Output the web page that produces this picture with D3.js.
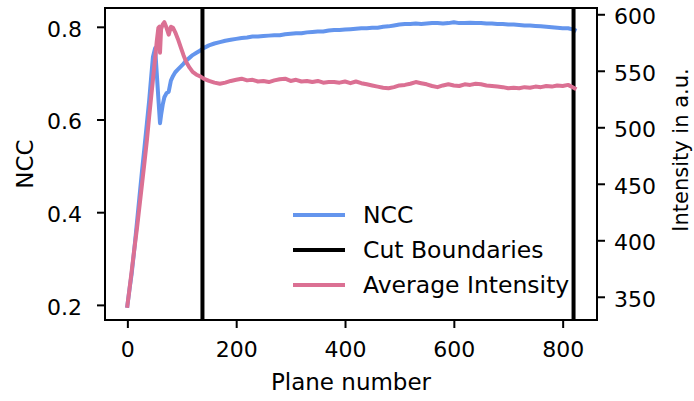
<!DOCTYPE html>
<html lang="en">
<head>
    <meta charset="UTF-8">
    <title>NCC and intensity per plane</title>
    <script src="https://d3js.org/d3.v7.min.js"></script>
    <style>
        body { margin: 0; background: #fff; }
        text { font-family: "DejaVu Sans", sans-serif; fill: #000; }
    </style>
</head>
<body>
<script>

// plane numbers (x)
const planes = [0, 4, 8, 13, 18, 22, 27, 31, 36, 40, 44, 47, 51, 54, 57, 59, 60, 62, 65, 68,
    72, 76, 80, 84, 88, 93, 98, 103, 108, 114, 120, 127, 134, 140,
    150, 160, 170, 180, 190, 200, 210, 220, 230, 240, 250, 260, 270, 280, 290, 300,
    310, 320, 330, 340, 350, 360, 370, 380, 390, 400, 410, 420, 430, 440, 450, 460,
    470, 480, 490, 500, 510, 520, 530, 540, 550, 560, 570, 580, 590, 600, 610, 620,
    630, 640, 650, 660, 670, 680, 690, 700, 710, 720, 730, 740, 750, 760, 770, 780,
    790, 800, 810, 820, 822];

const ncc = [0.198, 0.235, 0.268, 0.323, 0.382, 0.430, 0.490, 0.535, 0.593, 0.640, 0.695, 0.735, 0.754, 0.700, 0.645, 0.610, 0.592, 0.610, 0.632, 0.648,
    0.657, 0.660, 0.684, 0.694, 0.702, 0.708, 0.714, 0.720, 0.727, 0.733, 0.739, 0.744, 0.749, 0.754,
    0.760, 0.764, 0.767, 0.770, 0.772, 0.774, 0.776, 0.777, 0.779, 0.779, 0.780, 0.781, 0.782, 0.782, 0.784, 0.785,
    0.786, 0.786, 0.788, 0.789, 0.790, 0.790, 0.792, 0.793, 0.793, 0.794, 0.795, 0.796, 0.797, 0.797, 0.798, 0.798,
    0.800, 0.801, 0.803, 0.805, 0.806, 0.806, 0.807, 0.806, 0.807, 0.808, 0.808, 0.807, 0.808, 0.810, 0.808, 0.808,
    0.809, 0.808, 0.808, 0.807, 0.807, 0.806, 0.806, 0.805, 0.805, 0.804, 0.803, 0.803, 0.802, 0.801, 0.800, 0.799,
    0.798, 0.797, 0.797, 0.794, 0.793];

const intensity = [342, 357, 373, 393, 412, 429, 450, 467, 489, 509, 528, 542, 561, 576, 588, 589, 566, 587, 591, 593,
    588, 582, 589, 588, 584, 578, 571, 564, 558, 553, 549, 546.5, 545, 543,
    541, 539.5, 538.5, 539.5, 541, 542, 543, 541.5, 542, 540.5, 541, 540, 541.5, 542.5, 543, 541,
    542, 540.5, 541, 540, 541, 539.5, 540, 540, 539.5, 540.5, 539, 540.5, 539, 538, 537, 536,
    535, 534.5, 535.5, 537, 537.5, 538.5, 540, 539, 538, 536.5, 535.5, 537, 538, 537, 536.5, 538,
    537.5, 538.5, 538, 537, 536.5, 536, 535.5, 534.5, 535, 534.5, 535.5, 535, 536, 535.5, 536.5, 536,
    537, 536.5, 537.5, 535, 534.5];

const cutBoundaries = [138, 820];

const xTicks = [0, 200, 400, 600, 800];
const nccTicks = [0.2, 0.4, 0.6, 0.8];
const intensityTicks = [350, 400, 450, 500, 550, 600];

const legendLabels = ["NCC", "Cut Boundaries", "Average Intensity"];

const w = 694;
const h = 401;
const margin = {top: 8, right: 97, bottom: 81, left: 105};

const blue = "#6495ed";
const pink = "#db7093";

// matplotlib style 5% padding around the data
const pad = (ext) => {
    const d = ext[1] - ext[0];
    return [ext[0] - 0.05 * d, ext[1] + 0.05 * d];
};

const xScale = d3.scaleLinear()
                 .domain(pad(d3.extent(planes)))
                 .range([margin.left, w - margin.right]);

const yLeft = d3.scaleLinear()
                .domain(pad(d3.extent(ncc)))
                .range([h - margin.bottom, margin.top]);

const yRight = d3.scaleLinear()
                 .domain(pad(d3.extent(intensity)))
                 .range([h - margin.bottom, margin.top]);

const svg = d3.select("body")
              .append("svg")
              .attr("width", w)
              .attr("height", h);

const plot = svg.append("g");

const nccLine = d3.line()
                  .x((d, i) => xScale(planes[i]))
                  .y((d) => yLeft(d));

const intLine = d3.line()
                  .x((d, i) => xScale(planes[i]))
                  .y((d) => yRight(d));

plot.append("path")
    .datum(ncc)
    .attr("d", nccLine)
    .attr("fill", "none")
    .attr("stroke", blue)
    .attr("stroke-width", 4)
    .attr("stroke-linejoin", "round")
    .attr("stroke-linecap", "square");

plot.selectAll("line.cut")
    .data(cutBoundaries)
    .enter()
    .append("line")
    .attr("class", "cut")
    .attr("x1", (d) => xScale(d))
    .attr("x2", (d) => xScale(d))
    .attr("y1", margin.top)
    .attr("y2", h - margin.bottom)
    .attr("stroke", "#000")
    .attr("stroke-width", 4);

plot.append("path")
    .datum(intensity)
    .attr("d", intLine)
    .attr("fill", "none")
    .attr("stroke", pink)
    .attr("stroke-width", 4)
    .attr("stroke-linejoin", "round")
    .attr("stroke-linecap", "square");

// frame
svg.append("rect")
   .attr("x", margin.left)
   .attr("y", margin.top)
   .attr("width", w - margin.left - margin.right)
   .attr("height", h - margin.top - margin.bottom)
   .attr("fill", "none")
   .attr("stroke", "#000")
   .attr("stroke-width", 2);

function styleAxis(g) {
    g.select(".domain").remove();
    g.selectAll(".tick line").attr("stroke", "#000").attr("stroke-width", 2);
    g.selectAll(".tick text")
     .style("font-family", "'DejaVu Sans', sans-serif")
     .style("font-size", "22px")
     .attr("fill", "#000");
}

const xAxis = d3.axisBottom(xScale).tickValues(xTicks).tickFormat(d3.format("d"))
                .tickSize(8).tickPadding(8);
svg.append("g")
   .attr("transform", "translate(0," + (h - margin.bottom) + ")")
   .call(xAxis)
   .call(styleAxis)
   .call((g) => g.selectAll(".tick text").attr("dy", null).attr("y", 37));

const leftAxis = d3.axisLeft(yLeft).tickValues(nccTicks).tickFormat(d3.format(".1f"))
                   .tickSize(8).tickPadding(15);
svg.append("g")
   .attr("transform", "translate(" + margin.left + ",0)")
   .call(leftAxis)
   .call(styleAxis)
   .call((g) => g.selectAll(".tick text").attr("dy", "0.42em"));

const rightAxis = d3.axisRight(yRight).tickValues(intensityTicks).tickFormat(d3.format("d"))
                    .tickSize(8).tickPadding(9);
svg.append("g")
   .attr("transform", "translate(" + (w - margin.right) + ",0)")
   .call(rightAxis)
   .call(styleAxis)
   .call((g) => g.selectAll(".tick text").attr("dy", "0.42em"));

// axis titles
svg.append("text")
   .attr("x", (margin.left + w - margin.right) / 2)
   .attr("y", 390)
   .attr("text-anchor", "middle")
   .style("font-size", "23px")
   .text("Plane number");

svg.append("text")
   .attr("transform", "translate(33," + ((margin.top + h - margin.bottom) / 2) + ") rotate(-90)")
   .attr("text-anchor", "middle")
   .style("font-size", "23px")
   .text("NCC");

svg.append("text")
   .attr("transform", "translate(688,150) rotate(-90)")
   .attr("text-anchor", "middle")
   .style("font-size", "21px")
   .text("Intensity in a.u.");

// legend
const legendColors = [blue, "#000", pink];
const legend = svg.append("g");
legend.selectAll("line")
      .data(legendLabels)
      .enter()
      .append("line")
      .attr("x1", 293)
      .attr("x2", 345)
      .attr("y1", (d, i) => 215 + i * 35)
      .attr("y2", (d, i) => 215 + i * 35)
      .attr("stroke", (d, i) => legendColors[i])
      .attr("stroke-width", 4);

legend.selectAll("text")
      .data(legendLabels)
      .enter()
      .append("text")
      .attr("x", 363)
      .attr("y", (d, i) => 223 + i * 35)
      .style("font-size", "23.5px")
      .text((d) => d);

</script>
</body>
</html>
